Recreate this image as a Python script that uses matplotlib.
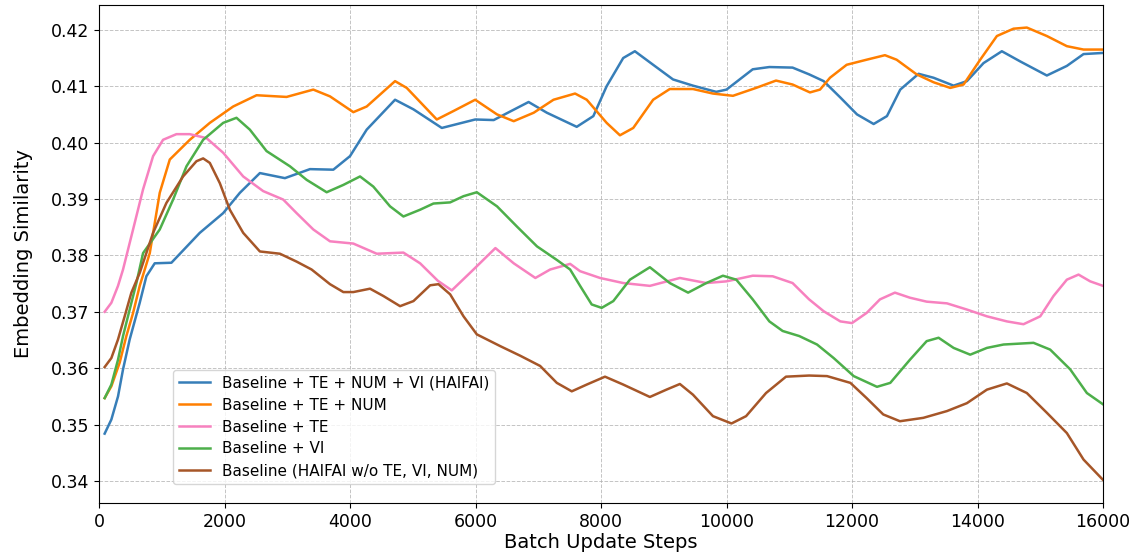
import matplotlib
matplotlib.use('Agg')
from matplotlib import pyplot as plt

# data
steps_full = [90, 197, 303, 383, 489, 649, 755, 888, 1154, 1606, 1979, 2245, 2564, 2963,
              3362, 3734, 4000, 4266, 4718, 5011, 5463, 5995, 6290, 6846, 7137, 7613,
              7878, 8090, 8354, 8540, 8831, 9148, 9466, 9836, 10000, 10418, 10683,
              11053, 11317, 11549, 11814, 12080, 12345, 12557, 12769, 13061, 13300,
              13619, 13831, 14096, 14388, 14680, 15105, 15424, 15690, 16000]
sim_full = [0.3484, 0.3509, 0.3550, 0.3598, 0.3651, 0.3716, 0.3763, 0.3786, 0.3787,
            0.3840, 0.3875, 0.3911, 0.3946, 0.3937, 0.3953, 0.3952, 0.3976, 0.4023,
            0.4076, 0.4059, 0.4026, 0.4041, 0.4040, 0.4072, 0.4053, 0.4028, 0.4047,
            0.4100, 0.4150, 0.4162, 0.4138, 0.4112, 0.4101, 0.4090, 0.4094, 0.4130,
            0.4134, 0.4133, 0.4121, 0.4109, 0.4080, 0.4050, 0.4033, 0.4047, 0.4094,
            0.4122, 0.4115, 0.4101, 0.4109, 0.4141, 0.4162, 0.4144, 0.4119, 0.4136,
            0.4157, 0.4159]

steps_te_num = [90, 197, 330, 436, 543, 649, 809, 968, 1128, 1447, 1766, 2138, 2511,
                2989, 3415, 3681, 4053, 4266, 4718, 4904, 5383, 5649, 5995, 6343, 6609,
                6928, 7243, 7587, 7773, 8090, 8302, 8514, 8831, 9096, 9466, 9784, 10103,
                10471, 10789, 11053, 11330, 11490, 11649, 11915, 12233, 12525, 12711,
                13030, 13300, 13566, 13778, 14043, 14309, 14574, 14786, 15105, 15424,
                15690, 16000]
sim_te_num = [0.3547, 0.3568, 0.3610, 0.3657, 0.3698, 0.3746, 0.3804, 0.3911, 0.3970,
              0.4005, 0.4035, 0.4064, 0.4084, 0.4081, 0.4094, 0.4082, 0.4054, 0.4064,
              0.4109, 0.4097, 0.4041, 0.4056, 0.4076, 0.4050, 0.4038, 0.4053, 0.4076,
              0.4087, 0.4076, 0.4035, 0.4013, 0.4026, 0.4076, 0.4095, 0.4095, 0.4087,
              0.4083, 0.4097, 0.4110, 0.4103, 0.4089, 0.4094, 0.4115, 0.4138, 0.4147,
              0.4155, 0.4147, 0.4121, 0.4107, 0.4097, 0.4103, 0.4147, 0.4189, 0.4202,
              0.4204, 0.4189, 0.4171, 0.4165, 0.4165]

steps_te = [90, 197, 303, 383, 543, 702, 862, 1021, 1234, 1447, 1713, 1979, 2298, 2617,
            2936, 3149, 3415, 3681, 4053, 4426, 4851, 5117, 5400, 5622, 5968, 6317, 6609,
            6954, 7190, 7508, 7667, 7985, 8354, 8779, 9257, 9678, 10000, 10418, 10736,
            11053, 11317, 11549, 11814, 12000, 12233, 12445, 12684, 12923, 13190, 13513,
            13831, 14150, 14468, 14733, 15000, 15211, 15424, 15610, 15796, 16000]
sim_te = [0.3700, 0.3716, 0.3746, 0.3775, 0.3846, 0.3917, 0.3976, 0.4005, 0.4015, 0.4015,
          0.4008, 0.3982, 0.3940, 0.3914, 0.3899, 0.3875, 0.3846, 0.3825, 0.3821, 0.3803,
          0.3805, 0.3786, 0.3755, 0.3738, 0.3775, 0.3813, 0.3786, 0.3760, 0.3775, 0.3785,
          0.3772, 0.3760, 0.3751, 0.3746, 0.3760, 0.3751, 0.3754, 0.3764, 0.3763, 0.3751,
          0.3722, 0.3701, 0.3683, 0.3680, 0.3698, 0.3722, 0.3734, 0.3725, 0.3718, 0.3715,
          0.3704, 0.3692, 0.3683, 0.3678, 0.3692, 0.3728, 0.3757, 0.3766, 0.3754, 0.3746]

steps_vi = [90, 197, 303, 383, 489, 596, 702, 968, 1181, 1394, 1660, 1979, 2191, 2404,
            2670, 3043, 3309, 3628, 3894, 4160, 4372, 4638, 4851, 5117, 5330, 5596, 5809,
            6021, 6343, 6662, 6980, 7296, 7508, 7667, 7852, 8011, 8196, 8461, 8779, 9096,
            9388, 9678, 9943, 10156, 10418, 10683, 10895, 11160, 11443, 11708, 12027,
            12398, 12610, 12923, 13190, 13380, 13619, 13884, 14150, 14415, 14893, 15158,
            15477, 15743, 16000]
sim_vi = [0.3547, 0.3571, 0.3615, 0.3657, 0.3704, 0.3751, 0.3804, 0.3846, 0.3899, 0.3958,
          0.4005, 0.4035, 0.4044, 0.4023, 0.3985, 0.3958, 0.3934, 0.3912, 0.3925, 0.3940,
          0.3922, 0.3887, 0.3869, 0.3881, 0.3892, 0.3894, 0.3905, 0.3912, 0.3887, 0.3851,
          0.3816, 0.3792, 0.3775, 0.3746, 0.3713, 0.3707, 0.3719, 0.3757, 0.3779, 0.3751,
          0.3734, 0.3751, 0.3764, 0.3757, 0.3722, 0.3683, 0.3666, 0.3657, 0.3642, 0.3618,
          0.3586, 0.3567, 0.3574, 0.3615, 0.3648, 0.3654, 0.3636, 0.3624, 0.3636, 0.3642,
          0.3645, 0.3633, 0.3598, 0.3556, 0.3536]

steps_base = [90, 197, 303, 409, 516, 649, 862, 1074, 1340, 1553, 1660, 1766, 1926, 2085,
              2298, 2564, 2883, 3149, 3388, 3681, 3894, 4053, 4319, 4532, 4798, 5011,
              5277, 5410, 5596, 5809, 6021, 6397, 6715, 7030, 7296, 7534, 7773, 8064,
              8354, 8779, 9043, 9257, 9466, 9784, 10080, 10312, 10630, 10948, 11317,
              11602, 11974, 12233, 12498, 12764, 13137, 13513, 13831, 14150, 14468,
              14786, 15105, 15424, 15690, 16000]
sim_base = [0.3602, 0.3618, 0.3651, 0.3692, 0.3734, 0.3769, 0.3840, 0.3893, 0.3940,
            0.3967, 0.3972, 0.3964, 0.3928, 0.3881, 0.3840, 0.3807, 0.3803, 0.3789,
            0.3775, 0.3749, 0.3735, 0.3735, 0.3741, 0.3728, 0.3710, 0.3719, 0.3747,
            0.3749, 0.3731, 0.3692, 0.3660, 0.3639, 0.3622, 0.3604, 0.3574, 0.3559,
            0.3571, 0.3585, 0.3571, 0.3549, 0.3562, 0.3572, 0.3553, 0.3515, 0.3502,
            0.3515, 0.3556, 0.3585, 0.3587, 0.3586, 0.3574, 0.3547, 0.3518, 0.3506,
            0.3512, 0.3524, 0.3538, 0.3562, 0.3573, 0.3556, 0.3521, 0.3485, 0.3438,
            0.3402]

labels = ['Baseline + TE + NUM + VI (HAIFAI)', 'Baseline + TE + NUM', 'Baseline + TE',
          'Baseline + VI', 'Baseline (HAIFAI w/o TE, VI, NUM)']
colors = ['#377eb8', '#ff7f00', '#f781bf', '#4daf4a', '#a65628']

fig = plt.figure(figsize=(11.41, 5.6), dpi=100)
ax = fig.add_axes([99/1141, 57/560, 1004/1141, 498/560])

series = [(steps_full, sim_full), (steps_te_num, sim_te_num), (steps_te, sim_te),
          (steps_vi, sim_vi), (steps_base, sim_base)]
for (xs, ys), lab, col in zip(series, labels, colors):
    ax.plot(xs, ys, color=col, lw=1.8, label=lab)

ax.set_xlim(0, 16000)
ax.set_ylim(0.3361, 0.4244)
ax.set_xticks(range(0, 16001, 2000))
ax.set_yticks([0.34, 0.35, 0.36, 0.37, 0.38, 0.39, 0.40, 0.41, 0.42])
ax.set_yticklabels(['%.2f' % v for v in ax.get_yticks()])
ax.tick_params(labelsize=12.5)
ax.grid(True, ls='--', lw=0.7, color='#b0b0b0', alpha=0.75)
ax.set_xlabel('Batch Update Steps', fontsize=14, labelpad=2)
ax.set_ylabel('Embedding Similarity', fontsize=14, labelpad=13)
ax.legend(loc='lower left', bbox_to_anchor=(0.066, 0.022), fontsize=11,
          handlelength=2.0, borderpad=0.4, labelspacing=0.45)

fig.savefig('out.png', dpi=100)
